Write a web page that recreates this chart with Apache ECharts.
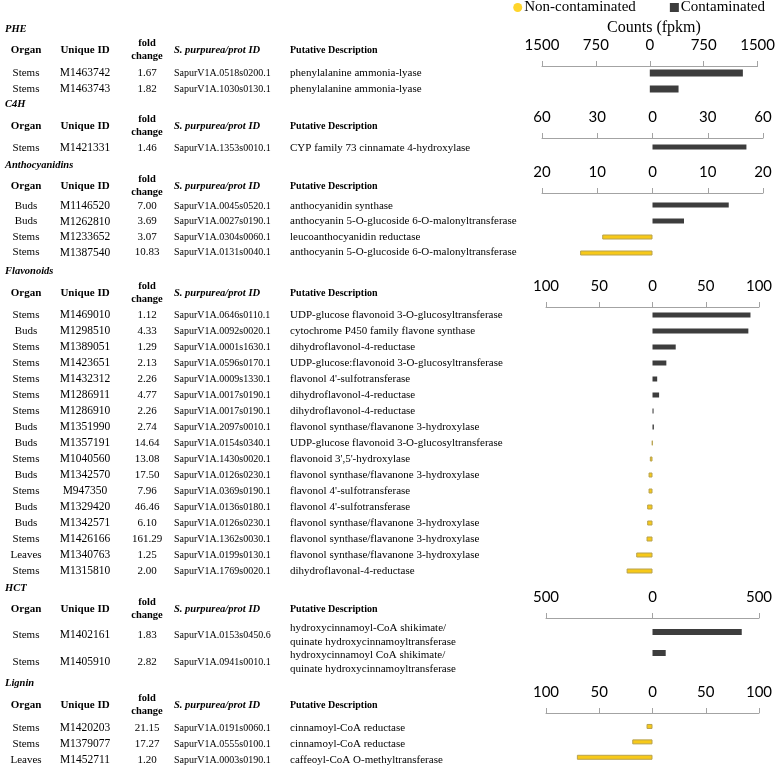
<!DOCTYPE html>
<html><head><meta charset="utf-8">
<script src="https://cdn.jsdelivr.net/npm/echarts@6/dist/echarts.min.js"></script>
<style>html,body{margin:0;padding:0;background:#fff}#c{width:778px;height:765px}</style>
</head><body><div id="c"></div>
<script>
// ---------- DATA ----------
const seriesNames = ['Non-contaminated', 'Contaminated'];
const headerLabels = ['Organ', 'Unique ID', 'fold\nchange', 'S. purpurea/prot ID', 'Putative Description'];

const pheOrgan = ['Stems', 'Stems'];
const pheIds = ['M1463742', 'M1463743'];
const pheFold = ['1.67', '1.82'];
const pheProt = ['SapurV1A.0518s0200.1', 'SapurV1A.1030s0130.1'];
const pheDesc = ['phenylalanine ammonia-lyase', 'phenylalanine ammonia-lyase'];
const pheContaminated = [1295, 400];
const pheNonContaminated = [null, null];
const pheAxis = [1500, 750]; // max, tick step

const c4hOrgan = ['Stems'];
const c4hIds = ['M1421331'];
const c4hFold = ['1.46'];
const c4hProt = ['SapurV1A.1353s0010.1'];
const c4hDesc = ['CYP family 73 cinnamate 4-hydroxylase'];
const c4hContaminated = [51];
const c4hNonContaminated = [null];
const c4hAxis = [60, 30];

const anthoOrgan = ['Buds', 'Buds', 'Stems', 'Stems'];
const anthoIds = ['M1146520', 'M1262810', 'M1233652', 'M1387540'];
const anthoFold = ['7.00', '3.69', '3.07', '10.83'];
const anthoProt = ['SapurV1A.0045s0520.1', 'SapurV1A.0027s0190.1', 'SapurV1A.0304s0060.1', 'SapurV1A.0131s0040.1'];
const anthoDesc = ['anthocyanidin synthase', 'anthocyanin 5-O-glucoside 6-O-malonyltransferase', 'leucoanthocyanidin reductase', 'anthocyanin 5-O-glucoside 6-O-malonyltransferase'];
const anthoContaminated = [13.8, 5.7, null, null];
const anthoNonContaminated = [null, null, 9.1, 13.1];
const anthoAxis = [20, 10];

const flavOrgan = ['Stems', 'Buds', 'Stems', 'Stems', 'Stems', 'Stems', 'Stems', 'Buds', 'Buds', 'Stems', 'Buds', 'Stems', 'Buds', 'Buds', 'Stems', 'Leaves', 'Stems'];
const flavIds = ['M1469010', 'M1298510', 'M1389051', 'M1423651', 'M1432312', 'M1286911', 'M1286910', 'M1351990', 'M1357191', 'M1040560', 'M1342570', 'M947350', 'M1329420', 'M1342571', 'M1426166', 'M1340763', 'M1315810'];
const flavFold = ['1.12', '4.33', '1.29', '2.13', '2.26', '4.77', '2.26', '2.74', '14.64', '13.08', '17.50', '7.96', '46.46', '6.10', '161.29', '1.25', '2.00'];
const flavProt = ['SapurV1A.0646s0110.1', 'SapurV1A.0092s0020.1', 'SapurV1A.0001s1630.1', 'SapurV1A.0596s0170.1', 'SapurV1A.0009s1330.1', 'SapurV1A.0017s0190.1', 'SapurV1A.0017s0190.1', 'SapurV1A.2097s0010.1', 'SapurV1A.0154s0340.1', 'SapurV1A.1430s0020.1', 'SapurV1A.0126s0230.1', 'SapurV1A.0369s0190.1', 'SapurV1A.0136s0180.1', 'SapurV1A.0126s0230.1', 'SapurV1A.1362s0030.1', 'SapurV1A.0199s0130.1', 'SapurV1A.1769s0020.1'];
const flavDesc = ['UDP-glucose flavonoid 3-O-glucosyltransferase', 'cytochrome P450 family flavone synthase', 'dihydroflavonol-4-reductase', 'UDP-glucose:flavonoid 3-O-glucosyltransferase', "flavonol 4'-sulfotransferase", 'dihydroflavonol-4-reductase', 'dihydroflavonol-4-reductase', 'flavonol synthase/flavanone 3-hydroxylase', 'UDP-glucose flavonoid 3-O-glucosyltransferase', "flavonoid 3',5'-hydroxylase", 'flavonol synthase/flavanone 3-hydroxylase', "flavonol 4'-sulfotransferase", "flavonol 4'-sulfotransferase", 'flavonol synthase/flavanone 3-hydroxylase', 'flavonol synthase/flavanone 3-hydroxylase', 'flavonol synthase/flavanone 3-hydroxylase', 'dihydroflavonal-4-reductase'];
const flavContaminated = [92, 90, 21.8, 13, 4.4, 6.2, 1.0, 1.3, null, null, null, null, null, null, null, null, null];
const flavNonContaminated = [null, null, null, null, null, null, null, null, 0.4, 2.5, 3.7, 3.7, 5, 5, 5.6, 15.3, 24.3];
const flavAxis = [100, 50];

const hctOrgan = ['Stems', 'Stems'];
const hctIds = ['M1402161', 'M1405910'];
const hctFold = ['1.83', '2.82'];
const hctProt = ['SapurV1A.0153s0450.6', 'SapurV1A.0941s0010.1'];
const hctDesc = ['hydroxycinnamoyl-CoA shikimate/\nquinate hydroxycinnamoyltransferase', 'hydroxycinnamoyl CoA shikimate/\nquinate hydroxycinnamoyltransferase'];
const hctContaminated = [419, 62];
const hctNonContaminated = [null, null];
const hctAxis = [500, 500];

const ligOrgan = ['Stems', 'Stems', 'Leaves'];
const ligIds = ['M1420203', 'M1379077', 'M1452711'];
const ligFold = ['21.15', '17.27', '1.20'];
const ligProt = ['SapurV1A.0191s0060.1', 'SapurV1A.0555s0100.1', 'SapurV1A.0003s0190.1'];
const ligDesc = ['cinnamoyl-CoA reductase', 'cinnamoyl-CoA reductase', 'caffeoyl-CoA O-methyltransferase'];
const ligContaminated = [null, null, null];
const ligNonContaminated = [5.6, 19, 71];
const ligAxis = [100, 50];

// ---------- LAYOUT ----------
const sections = [
  { title: 'PHE', organ: pheOrgan, ids: pheIds, fold: pheFold, prot: pheProt, desc: pheDesc, con: pheContaminated, non: pheNonContaminated, axis: pheAxis,
    titleY: 29, headerY: 50, axisY: 66, firstRow: 73, band: 16, textRow: 73, textBand: 16, left: 542, width: 221, barW: 7 },
  { title: 'C4H', organ: c4hOrgan, ids: c4hIds, fold: c4hFold, prot: c4hProt, desc: c4hDesc, con: c4hContaminated, non: c4hNonContaminated, axis: c4hAxis,
    titleY: 104, headerY: 126, axisY: 138, firstRow: 147, band: 16, textRow: 148, textBand: 16, left: 542, width: 221, barW: 5 },
  { title: 'Anthocyanidins', organ: anthoOrgan, ids: anthoIds, fold: anthoFold, prot: anthoProt, desc: anthoDesc, con: anthoContaminated, non: anthoNonContaminated, axis: anthoAxis,
    titleY: 165, headerY: 186, axisY: 193, firstRow: 205, band: 16, textRow: 206, textBand: 15.5, left: 542, width: 221, barW: 5 },
  { title: 'Flavonoids', organ: flavOrgan, ids: flavIds, fold: flavFold, prot: flavProt, desc: flavDesc, con: flavContaminated, non: flavNonContaminated, axis: flavAxis,
    titleY: 271, headerY: 293, axisY: 307, firstRow: 315, band: 16, textRow: 315, textBand: 16, left: 546, width: 213, barW: 5 },
  { title: 'HCT', organ: hctOrgan, ids: hctIds, fold: hctFold, prot: hctProt, desc: hctDesc, con: hctContaminated, non: hctNonContaminated, axis: hctAxis,
    titleY: 588, headerY: 609, axisY: 618, firstRow: 632, band: 21, textRow: 635, textBand: 27, left: 546, width: 213, barW: 6 },
  { title: 'Lignin', organ: ligOrgan, ids: ligIds, fold: ligFold, prot: ligProt, desc: ligDesc, con: ligContaminated, non: ligNonContaminated, axis: ligAxis,
    titleY: 683, headerY: 705, axisY: 713, firstRow: 727, band: 16.5, textRow: 728, textBand: 16, left: 546, width: 213, barW: 5 }
];

const colX = { organ: 26, id: 85, fold: 147, prot: 174, desc: 290 };
const SERIF = '"Liberation Serif", "Times New Roman", serif';
const YELLOW = '#f7c919', YELLOW_BORDER = '#b8a24e', DARK = '#3d3d3d';

const grids = [], xAxes = [], yAxes = [], series = [], graphics = [];

function txt(x, y, text, font, align, lh) {
  graphics.push({ type: 'text', x: x, y: y, silent: true,
    style: { text: text, font: font, fill: '#000', align: align, textAlign: align,
             verticalAlign: 'middle', textVerticalAlign: 'middle', lineHeight: lh || 13 } });
}

sections.forEach((s, i) => {
  const n = s.organ.length;
  const gTop = s.firstRow - s.band / 2;
  grids.push({ left: s.left, width: s.width, top: gTop, height: s.band * n });
  xAxes.push({
    gridIndex: i, type: 'value', position: 'top', min: -s.axis[0], max: s.axis[0], interval: s.axis[1],
    offset: gTop - s.axisY,
    axisLine: { show: true, lineStyle: { color: '#a3a3a3', width: 1 } },
    axisTick: { show: true, length: 5, lineStyle: { color: '#a3a3a3', width: 1 } },
    splitLine: { show: false },
    axisLabel: { margin: 13, color: '#000', fontFamily: 'Lato, "Open Sans", sans-serif', fontSize: 15,
                 formatter: v => String(Math.abs(v)) }
  });
  yAxes.push({ gridIndex: i, type: 'category', inverse: true, data: s.ids, show: false });
  series.push({
    name: 'Contaminated', type: 'bar', xAxisIndex: i, yAxisIndex: i, barWidth: s.barW, barGap: '-100%',
    itemStyle: { color: DARK }, data: s.con, silent: true
  });
  series.push({
    name: 'Non-contaminated', type: 'bar', xAxisIndex: i, yAxisIndex: i, barWidth: s.barW, barGap: '-100%',
    itemStyle: { color: YELLOW, borderColor: YELLOW_BORDER, borderWidth: 1 },
    data: s.non.map(v => (v == null ? null : -v)), silent: true
  });

  // table text
  txt(5, s.titleY, s.title, 'italic bold 10.5px ' + SERIF, 'left');
  const hf = 'bold 10.5px ' + SERIF;
  txt(colX.organ, s.headerY, headerLabels[0], 'bold 11px ' + SERIF, 'center');
  txt(colX.id, s.headerY, headerLabels[1], 'bold 11px ' + SERIF, 'center');
  txt(colX.fold, s.headerY, headerLabels[2], hf, 'center', 13);
  txt(colX.prot, s.headerY, headerLabels[3], 'italic bold 10.5px ' + SERIF, 'left');
  txt(colX.desc, s.headerY, headerLabels[4], 'bold 10px ' + SERIF, 'left');
  const bf = '11px ' + SERIF;
  for (let r = 0; r < n; r++) {
    const y = s.textRow + r * s.textBand;
    txt(colX.organ, y, s.organ[r], bf, 'center');
    txt(colX.id, y, s.ids[r], '11.5px ' + SERIF, 'center');
    txt(colX.fold, y, s.fold[r], bf, 'center');
    txt(colX.prot, y, s.prot[r], '10px ' + SERIF, 'left');
    txt(colX.desc, y, s.desc[r], bf, 'left', 14);
  }
});

graphics.push({ type: 'text', x: 654, y: 28, silent: true,
  style: { text: 'Counts (fpkm)', font: '16px ' + SERIF, fill: '#000', align: 'center', textAlign: 'center',
           verticalAlign: 'middle', textVerticalAlign: 'middle' } });

const chart = echarts.init(document.getElementById('c'), null, { renderer: 'canvas' });
chart.setOption({
  animation: false,
  backgroundColor: '#fff',
  legend: {
    right: 8, top: 0, padding: [0, 5, 0, 5], itemWidth: 9, itemHeight: 9, itemGap: 34, selectedMode: false,
    textStyle: { fontFamily: SERIF, fontSize: 15, color: '#000', padding: [0, 0, 0, -3] },
    data: [
      { name: seriesNames[0], icon: 'circle', itemStyle: { color: '#ffd52b', borderWidth: 0 } },
      { name: seriesNames[1], icon: 'rect', itemStyle: { color: DARK, borderWidth: 0 } }
    ]
  },
  grid: grids, xAxis: xAxes, yAxis: yAxes, series: series,
  graphic: { elements: graphics }
});
</script></body></html>
